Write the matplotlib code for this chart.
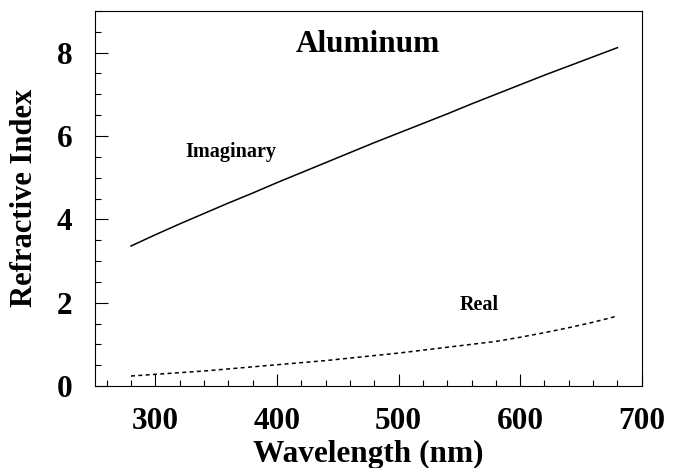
import matplotlib
matplotlib.use('Agg')
import matplotlib.pyplot as plt
from matplotlib.ticker import MultipleLocator

# wavelength (nm) and refractive index of aluminum
wavelength = [280, 300, 320, 340, 360, 380, 400, 420, 440, 460, 480,
              500, 520, 540, 560, 580, 600, 620, 640, 660, 680]
imaginary = [3.36, 3.63, 3.89, 4.14, 4.39, 4.63, 4.88, 5.12, 5.36, 5.60, 5.84,
             6.07, 6.30, 6.53, 6.77, 7.00, 7.23, 7.46, 7.68, 7.90, 8.12]
real = [0.24, 0.28, 0.32, 0.36, 0.41, 0.46, 0.51, 0.56, 0.61, 0.67, 0.73,
        0.79, 0.86, 0.93, 1.00, 1.07, 1.17, 1.28, 1.40, 1.53, 1.68]

plt.rcParams['font.family'] = ['Liberation Serif', 'DejaVu Serif']
plt.rcParams['font.weight'] = 'bold'

fig = plt.figure(figsize=(6.82, 4.68), dpi=100)
ax = fig.add_axes([0.1386, 0.1752, 0.8024, 0.8013])

ax.plot(wavelength, imaginary, color='black', lw=1.1)
ax.plot(wavelength, real, color='black', lw=1.1, dashes=(2.6, 2.2))

ax.set_xlim(250, 700)
ax.set_ylim(0, 9)
ax.xaxis.set_major_locator(MultipleLocator(100))
ax.xaxis.set_minor_locator(MultipleLocator(20))
ax.yaxis.set_major_locator(MultipleLocator(2))
ax.yaxis.set_minor_locator(MultipleLocator(0.5))
ax.tick_params(which='both', direction='in', top=False, right=False, width=0.8)
ax.tick_params(which='major', length=9, labelsize=22.5)
ax.tick_params(which='minor', length=4.5)
ax.tick_params(axis='y', pad=16)
ax.tick_params(axis='x', pad=15)
for s in ax.spines.values():
    s.set_linewidth(0.8)

ax.text(475, 8.02, 'Aluminum', fontsize=22.5, fontweight='bold', ha='center', va='baseline')
ax.text(362, 5.5, 'Imaginary', fontsize=14.5, fontweight='bold', ha='center', va='baseline')
ax.text(566, 1.82, 'Real', fontsize=14.5, fontweight='bold', ha='center', va='baseline')

fig.text(368 / 682, 6 / 468, 'Wavelength (nm)', fontsize=22.5, fontweight='bold',
         ha='center', va='baseline')
fig.text(25 / 682, 1 - 198 / 468, 'Refractive Index', fontsize=22, fontweight='bold',
         ha='center', va='center', rotation=90)

fig.savefig('out.png', dpi=100)
